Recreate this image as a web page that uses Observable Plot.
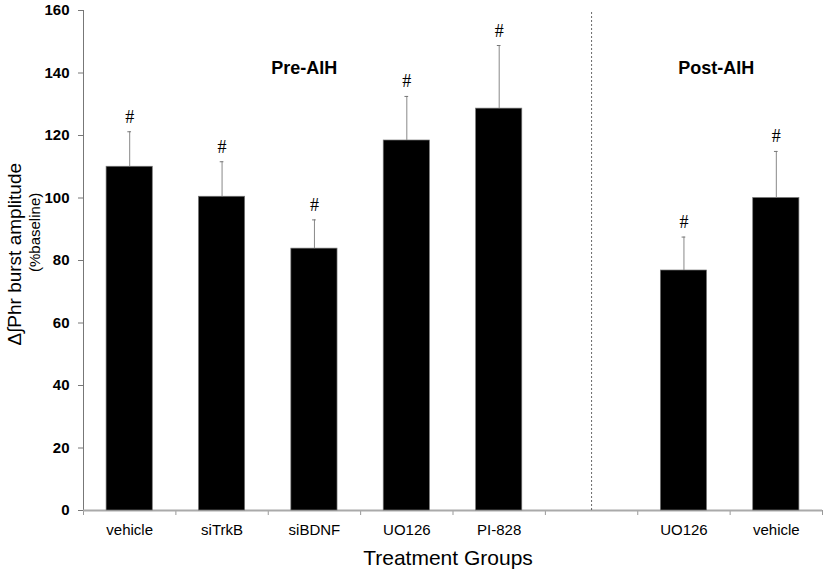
<!DOCTYPE html>
<html>
<head>
<meta charset="utf-8">
<script src="https://cdn.jsdelivr.net/npm/d3@7"></script>
<script src="https://cdn.jsdelivr.net/npm/@observablehq/plot@0.6"></script>
<style>
  html, body { margin: 0; padding: 0; background: white; }
</style>
</head>
<body>
<div id="chart"></div>
<script>
// ---- data ----
const labels = ["vehicle", "siTrkB", "siBDNF", "UO126", "PI-828", "", "UO126", "vehicle"];
const means  = [110, 100.4, 83.8, 118.4, 128.6, null, 76.8, 100];
const errors = [11.2, 11.2, 9.2, 14.1, 20.2, null, 10.7, 14.9];
const marker = ["#", "#", "#", "#", "#", "", "#", "#"];
const yTicks = [0, 20, 40, 60, 80, 100, 120, 140, 160];
const slotBounds = [0, 1, 2, 3, 4, 5, 6, 7, 8];
const divider = [5.5];
const phaseLabels = [
  { text: "Pre-AIH", x: 2.39, y: 141.5 },
  { text: "Post-AIH", x: 6.85, y: 141.5 }
];

const rows = labels.map((label, i) => ({ i, label, mean: means[i], err: errors[i], mark: marker[i] }));
const bars = rows.filter(d => d.mean != null);

const chart = Plot.plot({
  width: 825,
  height: 578,
  marginTop: 10,
  marginBottom: 68,
  marginLeft: 83,
  marginRight: 3,
  style: { fontFamily: "'Liberation Sans', Arial, sans-serif", background: "white", color: "black" },
  x: { domain: [0, 8] },
  y: { domain: [0, 160] },
  marks: [
    // y axis
    Plot.axisY({ ticks: yTicks, tickSize: 5, tickPadding: 9, fontSize: 15, fontWeight: "bold", stroke: "#777", label: null }),
    Plot.ruleX([0], { y1: 0, y2: 160, stroke: "#777" }),
    // x axis boundary ticks
    Plot.axisX({ ticks: slotBounds, tickFormat: () => "", tickSize: 5, stroke: "#999", label: null }),
    Plot.ruleY([0], { stroke: "#aaa", strokeWidth: 2 }),
    // divider
    Plot.ruleX(divider, { y1: 0, y2: 160, stroke: "#444", strokeDasharray: "2,2", strokeWidth: 0.8 }),
    // bars
    Plot.rectY(bars, { x1: d => d.i + 0.25, x2: d => d.i + 0.75, y1: 0, y2: "mean", fill: "black", stroke: "#777", strokeWidth: 0.7 }),
    // error bars
    Plot.ruleX(bars, { x: d => d.i + 0.5, y1: "mean", y2: d => d.mean + d.err, stroke: "#888", strokeWidth: 1 }),
    Plot.ruleY(bars, { x1: d => d.i + 0.48, x2: d => d.i + 0.52, y: d => d.mean + d.err, stroke: "#777", strokeWidth: 1 }),
    // significance markers
    Plot.text(bars, { x: d => d.i + 0.5, y: d => d.mean + d.err, text: "mark", dy: -9, lineAnchor: "bottom", fontSize: 18, fontFamily: "'Liberation Serif', 'Times New Roman', serif", fill: "black" }),
    // category labels
    Plot.text(rows, { x: d => d.i + 0.5, y: 0, text: "label", dy: 20, fontSize: 15, fill: "black" }),
    // phase labels
    Plot.text(phaseLabels, { x: "x", y: "y", text: "text", fontSize: 18, fontWeight: "bold", fill: "black" }),
    // axis titles
    Plot.text(["Treatment Groups"], { frameAnchor: "bottom", dy: 54, dx: -5, fontSize: 21, fill: "black" }),
    Plot.text(["Δ∫Phr burst amplitude"], { x: 0, y: 82, dx: -69, rotate: -90, fontSize: 19, fill: "black" }),
    Plot.text(["(%baseline)"], { x: 0, y: 89, dx: -48, rotate: -90, fontSize: 15, fill: "black" })
  ]
});

document.getElementById("chart").appendChild(chart);
</script>
</body>
</html>
